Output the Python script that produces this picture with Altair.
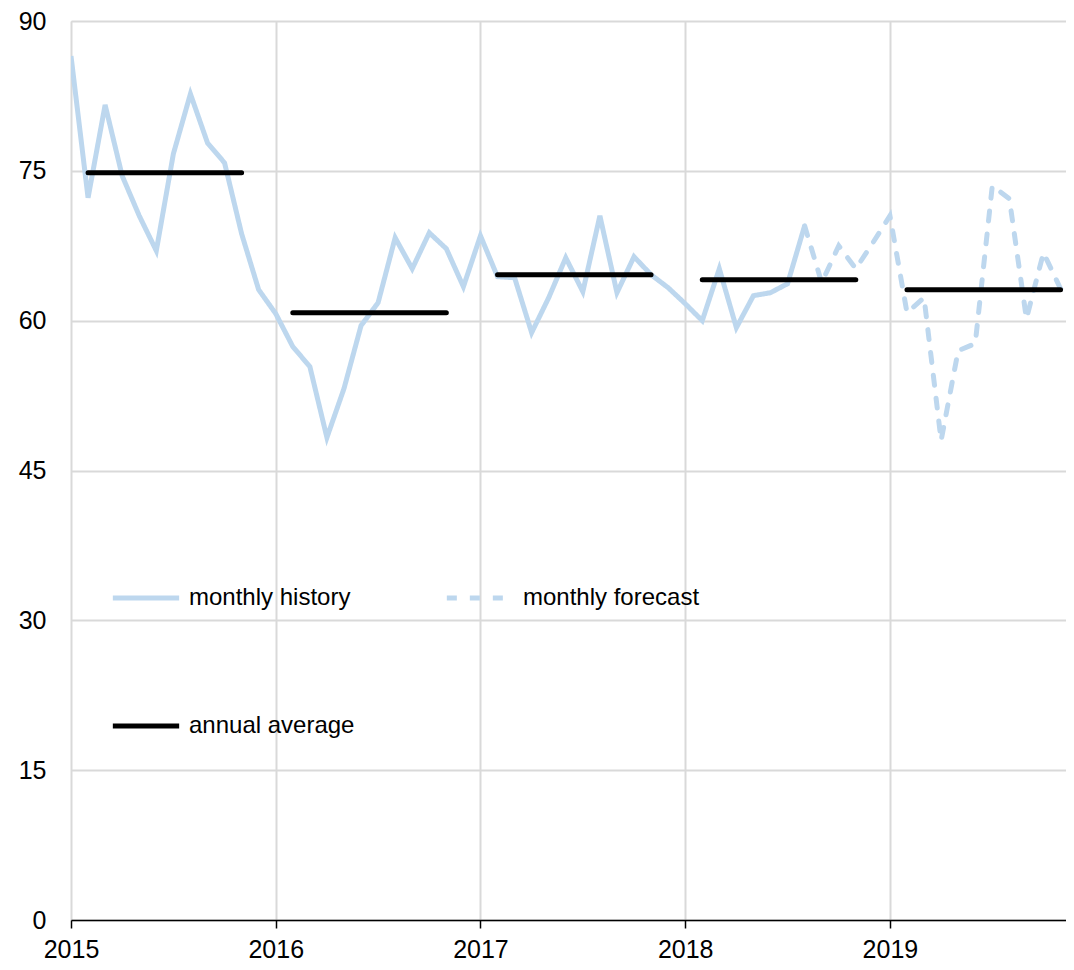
import altair as alt
import pandas as pd

# ---- data ----
history_months = list(range(0, 44))  # Jan 2015 .. Aug 2018
history_values = [86.5, 72.3, 81.6, 74.5, 70.5, 67.0, 76.7, 82.7, 77.8, 75.8, 68.7, 63.1,
                  60.7, 57.4, 55.4, 48.3, 53.2, 59.5, 61.8, 68.3, 65.2, 68.8, 67.2, 63.4,
                  68.5, 64.4, 64.3, 58.8, 62.3, 66.3, 62.9, 70.5, 62.8, 66.4, 64.6, 63.3,
                  61.7, 60.0, 65.2, 59.3, 62.5, 62.8, 63.7, 69.5]
forecast_months = list(range(43, 60))  # Aug 2018 .. Dec 2019
forecast_values = [69.5, 63.8, 67.5, 65.2, 67.8, 70.5, 60.8, 62.3, 48.0, 57.0, 57.7,
                   73.5, 72.2, 60.2, 66.8, 63.2, 64.0]
avg_years = [2015, 2016, 2017, 2018, 2019]
avg_values = [74.8, 60.8, 64.6, 64.1, 63.1]
avg_start_month = 1
avg_end_month = 10

series_names = ["monthly history", "monthly forecast", "annual average"]
legend_order = ["monthly history", "annual average", "monthly forecast"]
year_ticks = [2015, 2016, 2017, 2018, 2019]
y_ticks = [0, 15, 30, 45, 60, 75, 90]

BLUE = "#BDD7EE"
FONT = "Liberation Sans"

hist_df = pd.DataFrame({
    "x": [2015 + m / 12 for m in history_months],
    "value": history_values,
    "series": series_names[0],
})
fc_df = pd.DataFrame({
    "x": [2015 + m / 12 for m in forecast_months],
    "value": forecast_values,
    "series": series_names[1],
})
avg_df = pd.DataFrame({
    "x": [y + avg_start_month / 12 for y in avg_years],
    "x2": [y + avg_end_month / 12 for y in avg_years],
    "value": avg_values,
    "series": series_names[2],
})

x_scale = alt.Scale(domain=[2015, 2019.86], nice=False, zero=False)
y_scale = alt.Scale(domain=[0, 90], nice=False)

color = alt.Color(
    "series:N",
    scale=alt.Scale(domain=series_names, range=[BLUE, BLUE, "#000000"]),
    legend=alt.Legend(
        title=None,
        values=legend_order,
        orient="none",
        legendX=39,
        legendY=541,
        columns=2,
        columnPadding=81,
        rowPadding=80,
        symbolType="stroke",
        symbolSize=4400,
        symbolStrokeWidth=5,
        labelFontSize=24,
        labelFont=FONT,
        labelColor="#000000",
        labelOffset=7,
        labelLimit=500,
        padding=0,
    ),
)
dash = alt.StrokeDash(
    "series:N",
    scale=alt.Scale(domain=series_names, range=[[1, 0], [10, 13], [1, 0]]),
    legend=None,
)

x_axis = alt.Axis(
    values=year_ticks, format="d", title=None,
    labelFontSize=25, labelFont=FONT, labelColor="#000000",
    labelPadding=9, labelFlush=False,
    tickSize=8, tickColor="#000000", tickWidth=1.5,
    domainColor="#000000", domainWidth=1.5,
    grid=True, gridColor="#d9d9d9", gridWidth=2,
)
y_axis = alt.Axis(
    values=y_ticks, title=None,
    labelFontSize=25, labelFont=FONT, labelColor="#000000",
    labelPadding=25, ticks=False, domain=False,
    grid=True, gridColor="#d9d9d9", gridWidth=2,
)

hist = alt.Chart(hist_df).mark_line(strokeWidth=5, clip=True, strokeJoin="miter").encode(
    x=alt.X("x:Q", scale=x_scale, axis=x_axis),
    y=alt.Y("value:Q", scale=y_scale, axis=y_axis),
    color=color,
    strokeDash=dash,
)
fc = alt.Chart(fc_df).mark_line(strokeWidth=5, clip=True, strokeCap="round").encode(
    x=alt.X("x:Q", scale=x_scale),
    y=alt.Y("value:Q", scale=y_scale),
    color=color,
    strokeDash=dash,
)
avg = alt.Chart(avg_df).mark_rule(strokeWidth=5, strokeCap="round").encode(
    x=alt.X("x:Q", scale=x_scale),
    x2="x2:Q",
    y=alt.Y("value:Q", scale=y_scale),
    color=color,
    strokeDash=dash,
)

chart = alt.layer(hist, fc, avg).properties(
    width=995,
    height=899,
    autosize=alt.AutoSizeParams(type="none"),
    padding={"left": 63, "top": 13, "right": 0, "bottom": 42},
).configure_view(stroke=None).configure(background="white")

chart.save("out.html", embed_options={"renderer": "svg", "actions": False})
